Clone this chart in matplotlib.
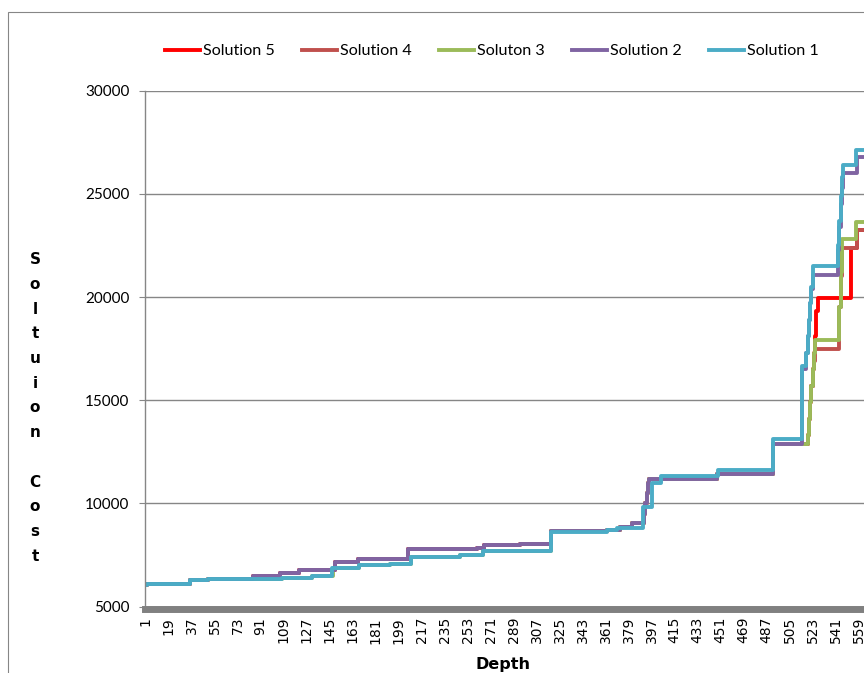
import numpy as np
import matplotlib
matplotlib.use("Agg")
import matplotlib.pyplot as plt
import matplotlib.patches as patches

# Datos (profundidad donde cambia el costo, costo nuevo)
n_depth = 575
tick_depths = list(range(1, 560, 18))

sol1_depth = [1, 2, 36, 50, 108, 131, 147, 168, 192, 209, 247, 265, 318, 362, 370,
              390, 397, 404, 449, 492, 515, 518, 519, 520, 521, 522, 523,
              543, 544, 545, 546, 547, 557]
sol1_cost = [6050, 6100, 6270, 6330, 6390, 6460, 6870, 7010, 7080, 7420, 7500, 7690, 8630, 8700, 8800,
             9840, 10970, 11330, 11600, 13100, 16650, 17300, 18100, 18900, 19700, 20500, 21480,
             22500, 23700, 24900, 25800, 26400, 27150]

sol2_depth = [1, 2, 36, 50, 85, 106, 121, 149, 167, 206, 260, 266, 294, 318, 362, 372,
              382, 391, 392, 393, 394, 395, 448, 492, 515, 518, 519, 520, 521, 522, 523,
              543, 544, 545, 546, 547, 558]
sol2_cost = [6050, 6100, 6270, 6330, 6500, 6600, 6780, 7150, 7280, 7770, 7850, 7960, 8040, 8640, 8720, 8850,
             9060, 9500, 10000, 10500, 11000, 11170, 11440, 12880, 16500, 17300, 18100, 18900, 19700, 20400, 21070,
             22300, 23400, 24500, 25300, 25990, 26770]

sol3_depth = [1, 2, 36, 50, 108, 131, 148, 168, 192, 209, 247, 265, 318, 362, 372,
              382, 391, 392, 393, 394, 395, 448, 492, 519, 520, 521, 522, 523, 524, 525,
              544, 545, 546, 557]
sol3_cost = [6050, 6100, 6270, 6330, 6390, 6460, 6870, 7010, 7080, 7420, 7500, 7690, 8640, 8720, 8850,
             9060, 9500, 10000, 10500, 11000, 11170, 11440, 12880, 13300, 14100, 14900, 15700, 16500, 17300, 17920,
             19500, 21200, 22800, 23650]

sol4_depth = [1, 2, 36, 50, 85, 106, 121, 149, 167, 206, 260, 266, 294, 318, 362, 372,
              382, 391, 392, 393, 394, 395, 448, 492, 519, 520, 521, 522, 523, 524, 525,
              544, 545, 546, 558]
sol4_cost = [6050, 6100, 6270, 6330, 6500, 6600, 6780, 7150, 7280, 7770, 7850, 7960, 8040, 8640, 8720, 8850,
             9060, 9500, 10000, 10500, 11000, 11170, 11440, 12880, 13300, 14100, 14900, 15700, 16500, 16900, 17470,
             19500, 21000, 22400, 23250]

sol5_depth = [1, 2, 36, 50, 85, 106, 121, 149, 167, 206, 260, 266, 294, 318, 362, 372,
              382, 391, 392, 393, 394, 395, 448, 492, 519, 520, 521, 522, 523, 524, 525, 526, 527,
              553, 558]
sol5_cost = [6050, 6100, 6270, 6330, 6500, 6600, 6780, 7150, 7280, 7770, 7850, 7960, 8040, 8640, 8720, 8850,
             9060, 9500, 10000, 10500, 11000, 11170, 11440, 12880, 13300, 14100, 14900, 15700, 16500, 17300, 18100,
             19300, 19940, 22400, 23250]

series = [
    ("Solution 5", sol5_depth, sol5_cost, "#FF0000"),
    ("Solution 4", sol4_depth, sol4_cost, "#C0504D"),
    ("Soluton 3", sol3_depth, sol3_cost, "#9BBB59"),
    ("Solution 2", sol2_depth, sol2_cost, "#8064A2"),
    ("Solution 1", sol1_depth, sol1_cost, "#4BACC6"),
]

W, H = 864, 673
fig = plt.figure(figsize=(W / 100, H / 100), dpi=100)
gris = "#868686"

# marco del area del grafico (cortado a la derecha y abajo)
marco = patches.Rectangle((8 / W, -0.05), 1.1, 1.05 - 11.7 / H, transform=fig.transFigure,
                          fill=False, edgecolor=gris, linewidth=0.8)
fig.add_artist(marco)

ax_left, ax_bottom = 144.9 / W, (H - 606.5) / H
px_per_cat = 1.278
ax = fig.add_axes([ax_left, ax_bottom, n_depth * px_per_cat / W, (606.5 - 90.7) / H])

for name, d, c, color in series:
    d = np.append(d, n_depth)
    c = np.append(c, c[-1])
    ax.plot(d, c, drawstyle="steps-post", color=color, linewidth=2.8, label=name)

ax.set_xlim(0.5, n_depth + 0.5)
ax.set_ylim(5000, 30000)
ax.set_yticks(range(5000, 30001, 5000))
ax.set_xticks(tick_depths)
ax.tick_params(axis="y", length=4, color=gris, pad=7)
ax.tick_params(axis="x", length=0, pad=6, labelrotation=90)
ax.set_xticklabels([str(t) for t in tick_depths])
for lab in ax.get_xticklabels():
    lab.set_family("Lato")
    lab.set_fontsize(9)
    lab.set_rotation(90)
for lab in ax.get_yticklabels():
    lab.set_family("Lato")
    lab.set_fontsize(11)
ax.yaxis.grid(True, color=gris, linewidth=1.0)
ax.set_axisbelow(True)

for s in ["top", "right"]:
    ax.spines[s].set_visible(False)
ax.spines["left"].set_color(gris)
ax.spines["left"].set_linewidth(1.0)
ax.spines["bottom"].set_color("#808080")
ax.spines["bottom"].set_linewidth(5)
ax.spines["bottom"].set_position(("outward", 1.5))

# titulo del eje y, letra por renglon
fig.text(35 / W, (H - 408) / H, "\n".join("Soltuion Cost"), ha="center", va="center",
         fontsize=11, fontweight="bold", linespacing=1.81)
fig.text(503 / W, (H - 664) / H, "Depth", ha="center", va="center",
         fontsize=11.5, fontweight="bold")

handles, labels = ax.get_legend_handles_labels()
fig.legend(handles, labels, loc="center", bbox_to_anchor=(492 / W, (H - 51) / H), ncol=5,
           frameon=False, prop={"family": "Lato", "size": 11.6}, handlelength=2.2,
           handletextpad=0.2, columnspacing=1.65)

fig.savefig("out.png", dpi=100)
